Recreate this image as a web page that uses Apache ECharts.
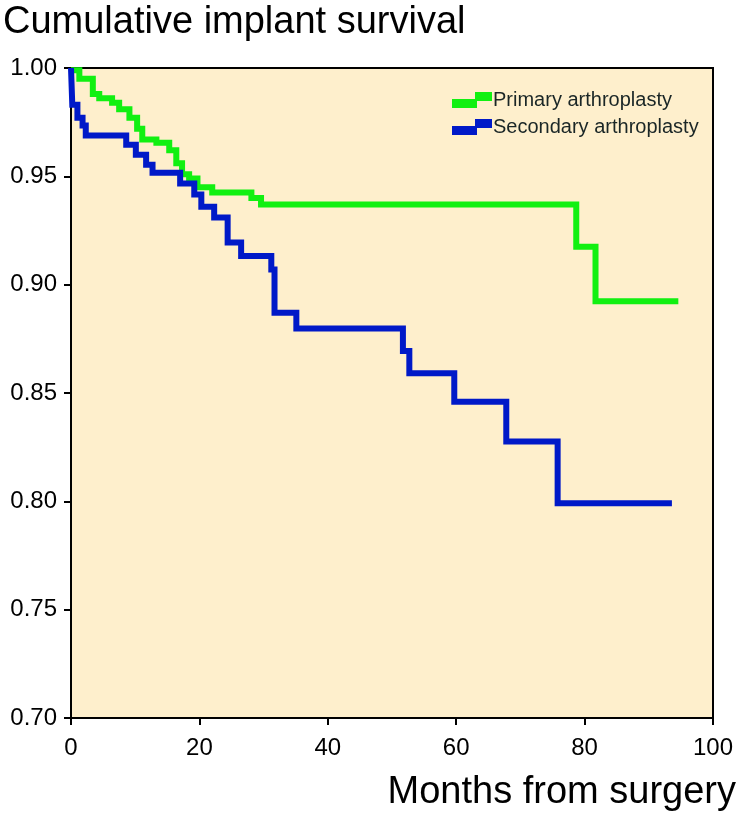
<!DOCTYPE html>
<html>
<head>
<meta charset="utf-8">
<script src="https://cdn.jsdelivr.net/npm/echarts@6/dist/echarts.min.js"></script>
<style>
html,body{margin:0;padding:0;background:#fff;}
#chart{width:739px;height:820px;}
</style>
</head>
<body>
<div id="chart"></div>
<script>
// Data: [month, survival] step points (value after the step at that month)
var primaryMonths = [0, 1.3, 3.4, 4.4, 6.4, 7.5, 9.1, 10.3, 11.1, 13.3, 15.3, 16.4, 17.3, 18.4, 19.7, 22.0, 28.1, 29.6, 78.7, 81.7, 94.6];
var primaryValues = [0.999, 0.995, 0.988, 0.986, 0.984, 0.981, 0.977, 0.972, 0.967, 0.9655, 0.962, 0.956, 0.951, 0.949, 0.945, 0.9425, 0.940, 0.937, 0.9175, 0.8924, 0.8924];
var secondaryMonths = [0, 0.2, 1.0, 1.8, 2.3, 8.6, 10.1, 11.7, 12.7, 17.0, 19.2, 20.3, 22.3, 24.4, 26.5, 31.2, 31.7, 35.1, 51.7, 52.7, 59.7, 67.8, 75.8, 93.6];
var secondaryValues = [1.0, 0.983, 0.977, 0.9735, 0.9688, 0.9646, 0.960, 0.9554, 0.9516, 0.9467, 0.9416, 0.936, 0.931, 0.9195, 0.9132, 0.907, 0.887, 0.8798, 0.8694, 0.8591, 0.846, 0.8276, 0.7991, 0.7991];
var seriesNames = ['Primary arthroplasty', 'Secondary arthroplasty'];
var xTicks = [0, 20, 40, 60, 80, 100];
var yTicks = [0.70, 0.75, 0.80, 0.85, 0.90, 0.95, 1.00];

function pairs(xs, ys){ return xs.map(function(x,i){ return [x, ys[i]]; }); }

var stepIcon = 'path://M0,7 L23,7 L23,0 L40,0 L40,9 L25,9 L25,16 L0,16 Z';
var FONT = '"Liberation Sans", Arial, Helvetica, sans-serif';

var chart = echarts.init(document.getElementById('chart'), null, {renderer:'canvas'});
chart.setOption({
  animation: false,
  backgroundColor: '#ffffff',
  title: {
    text: 'Cumulative implant survival',
    left: -2, top: -1,
    textStyle: {fontFamily: FONT, fontSize: 38, fontWeight: 'normal', color: '#000'}
  },
  legend: {
    orient: 'vertical',
    left: 447, top: 85,
    itemWidth: 40, itemHeight: 16, itemGap: 7,
    data: [
      {name: seriesNames[0], icon: stepIcon},
      {name: seriesNames[1], icon: stepIcon}
    ],
    textStyle: {fontFamily: FONT, fontSize: 20, color: '#1a2626', padding:[0,0,0,-4]}
  },
  grid: {
    left: 71, right: 25, top: 68, bottom: 102,
    show: true, backgroundColor: '#FEEFCC', borderColor: '#000', borderWidth: 2
  },
  xAxis: {
    type: 'value', min: 0, max: 100, interval: 20,
    name: 'Months from surgery',
    nameLocation: 'end',
    nameGap: 0,
    nameTextStyle: {fontFamily: FONT, fontSize: 38, color: '#000', align: 'right', verticalAlign: 'top', padding: [56, -23, 0, 0]},
    axisLine: {lineStyle: {color: '#000', width: 2}},
    axisTick: {length: 7, lineStyle: {color: '#000', width: 2}},
    axisLabel: {fontFamily: FONT, fontSize: 24, color: '#000', margin: 18,
      formatter: function(v){ return xTicks.indexOf(v) >= 0 ? String(v) : ''; }},
    splitLine: {show: false}
  },
  yAxis: {
    type: 'value', min: 0.70, max: 1.00, interval: 0.05,
    axisLine: {lineStyle: {color: '#000', width: 2}},
    axisTick: {length: 7, lineStyle: {color: '#000', width: 2}},
    axisLabel: {fontFamily: FONT, fontSize: 24, color: '#000', margin: 14,
      formatter: function(v){ return v.toFixed(2); }},
    splitLine: {show: false}
  },
  series: [
    {
      name: seriesNames[0], type: 'line', step: 'end', symbol: 'none',
      data: pairs(primaryMonths, primaryValues),
      lineStyle: {color: '#11F011', width: 6, join: 'miter', cap: 'butt'},
      itemStyle: {color: '#11F011'}
    },
    {
      name: seriesNames[1], type: 'line', step: 'end', symbol: 'none',
      data: pairs(secondaryMonths, secondaryValues),
      lineStyle: {color: '#0019C8', width: 6, join: 'miter', cap: 'butt'},
      itemStyle: {color: '#0019C8'}
    }
  ]
});
</script>
</body>
</html>
